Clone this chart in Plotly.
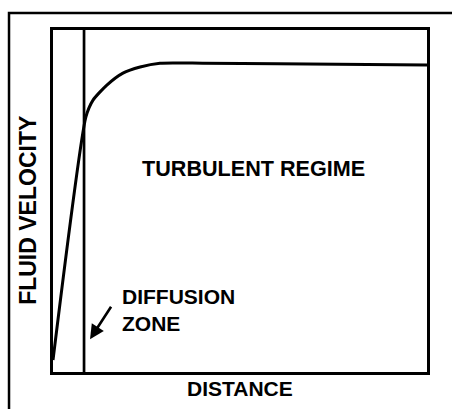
import plotly.graph_objects as go

# Velocity profile (distance 0-100, velocity 0-100)
distance = [0, 8.8, 10.7, 14.4, 18.7, 23.3, 28.6, 40, 60, 100]
velocity = [3.5, 74.6, 79.5, 83.9, 87.4, 89.2, 90.3, 90.3, 90.1, 89.8]

# Boundary of the diffusion zone
zone_edge = 8.3

# Text labels
x_label = "DISTANCE"
y_label = "FLUID VELOCITY"
regime_label = "TURBULENT REGIME"
zone_label = "DIFFUSION<br>ZONE"

FONT = dict(family="Liberation Sans, Arial, sans-serif", size=21, color="black")

fig = go.Figure()
fig.add_trace(go.Scatter(
    x=distance, y=velocity, mode="lines",
    line=dict(color="black", width=3, shape="spline", smoothing=0.6),
    hoverinfo="skip", showlegend=False))
fig.add_trace(go.Scatter(
    x=[zone_edge, zone_edge], y=[0, 100], mode="lines",
    line=dict(color="black", width=2.7),
    hoverinfo="skip", showlegend=False))

axis_common = dict(range=[0, 100], showgrid=False, zeroline=False,
                   showticklabels=False, ticks="", showline=True,
                   linecolor="black", linewidth=3, mirror=True, fixedrange=True)

fig.update_layout(
    width=452, height=409,
    margin=dict(l=53, r=25, t=30, b=37),
    paper_bgcolor="white", plot_bgcolor="white",
    xaxis=axis_common, yaxis=axis_common,
    font=FONT,
    annotations=[
        dict(text="<b>%s</b>" % regime_label, x=53.7, y=59.6, xref="x", yref="y",
             showarrow=False, xanchor="center", yanchor="middle",
             font=dict(FONT, size=21.6)),
        dict(text="<b>%s</b>" % zone_label, x=17.8, y=18.1, xref="x", yref="y",
             showarrow=False, xanchor="left", yanchor="middle", align="left", font=FONT),
        dict(text="", x=9.9, y=9.6, xref="x", yref="y", showarrow=True,
             ax=22, ay=-34, arrowhead=2, arrowsize=1.1, arrowwidth=2.6,
             arrowcolor="black"),
        dict(text="<b>%s</b>" % x_label, x=0.5, y=-0.0497, xref="paper", yref="paper",
             showarrow=False, xanchor="center", yanchor="middle", font=FONT),
        dict(text="<b>%s</b>" % y_label, x=-0.067, y=0.474, xref="paper", yref="paper",
             showarrow=False, xanchor="center", yanchor="middle", textangle=-90,
             font=dict(FONT, size=23)),
    ],
    shapes=[
        dict(type="rect", xref="paper", yref="paper",
             x0=-0.1176, y0=-0.3, x1=1.3, y1=1.0497,
             line=dict(color="black", width=2.5)),
    ],
)

fig.write_html("out.html",
               config={"displayModeBar": False},
               post_script="document.body.style.margin='0';"
                           "document.body.style.overflow='hidden';")
